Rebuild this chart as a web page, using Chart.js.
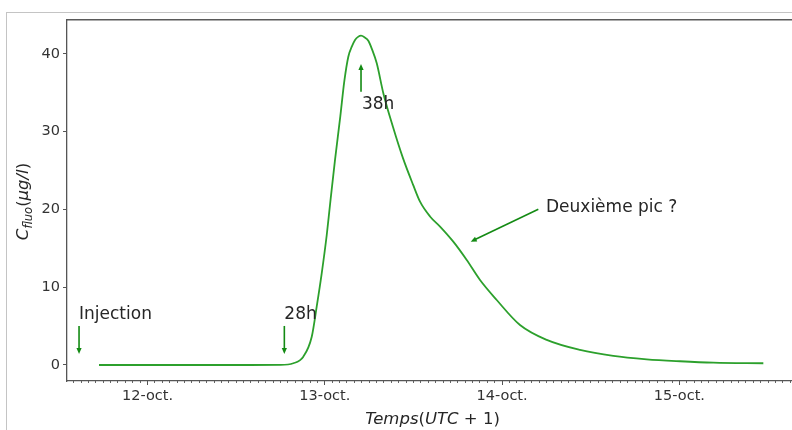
<!DOCTYPE html>
<html><head><meta charset="utf-8">
<script src="https://cdn.jsdelivr.net/npm/chart.js@4"></script>
<style>
html,body{margin:0;padding:0;background:#fff;overflow:hidden}
#wrap{position:relative;width:792px;height:430px;overflow:hidden}
#frame{position:absolute;left:6px;top:12px;right:-4px;bottom:-4px;border-left:1px solid #c4c4c4;border-top:1px solid #c4c4c4}
canvas{position:absolute;left:0;top:0}
</style></head><body>
<div id="wrap"><div id="frame"></div><canvas id="c" width="792" height="430"></canvas></div>
<script>
// time in hours from 12-oct 00:00 (UTC+1)
const hours = [-6.57, 0.34, 7.11, 13.88, 17.94, 19.74, 21.09, 22.23, 22.90, 23.58, 24.26, 24.70, 25.38, 26.10, 26.64, 27.18, 27.68, 28.09, 28.50, 28.90, 29.37, 29.89, 30.39, 31.03, 31.92, 33.23, 34.58, 35.94, 36.89, 38.24, 39.60, 41.39, 43.21, 45.01, 47.27, 50.42, 54.04, 58.54, 63.05, 67.57, 72.08, 76.59, 83.36];
// fluorescein concentration (µg/l)
const conc = [0, 0, 0, 0, 0.01, 0.22, 1.07, 3.64, 7.50, 11.79, 16.72, 20.58, 26.37, 32.0, 36.5, 39.65, 41.0, 41.8, 42.2, 42.35, 42.15, 41.7, 40.6, 38.8, 34.95, 30.6, 26.6, 23.2, 21.0, 19.1, 17.8, 15.86, 13.50, 10.93, 8.36, 5.14, 3.22, 1.93, 1.16, 0.73, 0.48, 0.30, 0.22];

const dayTicks = [0, 24, 48, 72];
const dayLabels = ['12-oct.', '13-oct.', '14-oct.', '15-oct.'];
const yTicks = [0, 10, 20, 30, 40];
const X_MIN = -10.90, X_MAX = 87.24;
const Y_MIN = -2.06, Y_MAX = 44.37;

// annotations (data units)
const annText  = ['Injection', '28h', '38h', 'Deuxième pic ?'];
const annTextX = [-9.27, 18.52, 29.03, 53.94];
const annTextY = [5.88, 5.88, 32.93, 19.68];
const arrFromX = [-9.27, 18.52, 28.90, 52.90];
const arrFromY = [5.02, 5.02, 35.15, 20.03];
const arrToX   = [-9.27, 18.52, 28.90, 43.75];
const arrToY   = [1.41, 1.41, 38.71, 15.86];

const minorTicks = [];
for (let h = -10; h <= 87; h++) minorTicks.push(h);

const FONT = 'DejaVu Sans';

const annPlugin = {
  id: 'ann',
  afterDatasetsDraw(chart) {
    const {ctx, scales: {x, y}} = chart;
    ctx.save();
    for (let i = 0; i < annText.length; i++) {
      const x1 = x.getPixelForValue(arrFromX[i]), y1 = y.getPixelForValue(arrFromY[i]);
      const x2 = x.getPixelForValue(arrToX[i]), y2 = y.getPixelForValue(arrToY[i]);
      ctx.strokeStyle = '#138a13'; ctx.fillStyle = '#138a13'; ctx.lineWidth = 1.6;
      const ang = Math.atan2(y2 - y1, x2 - x1);
      const hl = 6, hw = 2.6;
      ctx.beginPath(); ctx.moveTo(x1, y1);
      ctx.lineTo(x2 - Math.cos(ang) * hl * 0.8, y2 - Math.sin(ang) * hl * 0.8); ctx.stroke();
      ctx.beginPath();
      ctx.moveTo(x2, y2);
      ctx.lineTo(x2 - Math.cos(ang) * hl - Math.sin(ang) * hw, y2 - Math.sin(ang) * hl + Math.cos(ang) * hw);
      ctx.lineTo(x2 - Math.cos(ang) * hl + Math.sin(ang) * hw, y2 - Math.sin(ang) * hl - Math.cos(ang) * hw);
      ctx.closePath(); ctx.fill();
      ctx.fillStyle = '#262626';
      ctx.font = '17px "' + FONT + '"';
      ctx.textBaseline = 'alphabetic'; ctx.textAlign = 'left';
      ctx.fillText(annText[i], x.getPixelForValue(annTextX[i]), y.getPixelForValue(annTextY[i]));
    }
    ctx.restore();
  },
  afterDraw(chart) {
    const {ctx, chartArea} = chart;
    ctx.save();
    ctx.fillStyle = '#262626';
    ctx.textBaseline = 'alphabetic'; ctx.textAlign = 'left';
    // x title: Temps(UTC + 1)
    const xp = [['Temps', 'italic 16.5px'], ['(', '16.5px'], ['UTC', 'italic 16.5px'], [' + 1)', '16.5px']];
    let tw = 0;
    for (const [t, f] of xp) { ctx.font = f + ' "' + FONT + '"'; tw += ctx.measureText(t).width; }
    let cx = (chartArea.left + chartArea.right) / 2 + 3 - tw / 2;
    for (const [t, f] of xp) { ctx.font = f + ' "' + FONT + '"'; ctx.fillText(t, cx, 424); cx += ctx.measureText(t).width; }
    // y title: C_fluo(µg/l)
    ctx.translate(28, (chartArea.top + chartArea.bottom) / 2 + 1);
    ctx.rotate(-Math.PI / 2);
    const yp = [['C', 'italic 16.5px', 0], ['fluo', 'italic 11.5px', 4], ['(', '16.5px', 0], ['μg/l', 'italic 16.5px', 0], [')', '16.5px', 0]];
    tw = 0;
    for (const [t, f] of yp) { ctx.font = f + ' "' + FONT + '"'; tw += ctx.measureText(t).width; }
    cx = -tw / 2;
    for (const [t, f, d] of yp) { ctx.font = f + ' "' + FONT + '"'; ctx.fillText(t, cx, d); cx += ctx.measureText(t).width; }
    ctx.restore();
  }
};

new Chart(document.getElementById('c'), {
  type: 'line',
  data: { datasets: [{
    data: hours.map((h, i) => ({x: h, y: conc[i]})),
    borderColor: '#2ca02c', borderWidth: 1.8, pointRadius: 0,
    cubicInterpolationMode: 'monotone', fill: false
  }]},
  options: {
    responsive: false, animation: false, devicePixelRatio: 1,
    layout: {padding: {left: 0, top: 20, right: -6, bottom: 0}},
    plugins: {legend: {display: false}, tooltip: {enabled: false}},
    scales: {
      xm: {
        type: 'linear', position: 'bottom', weight: 0, min: X_MIN, max: X_MAX,
        afterBuildTicks: s => { s.ticks = minorTicks.map(v => ({value: v})); },
        afterFit: s => { s.height = 0; },
        grid: {display: true, drawOnChartArea: false, tickLength: 2, tickColor: '#666', color: '#666'},
        border: {display: false},
        ticks: {display: false, autoSkip: false}
      },
      x: {
        type: 'linear', position: 'bottom', weight: 1, min: X_MIN, max: X_MAX,
        afterBuildTicks: s => { s.ticks = dayTicks.map(v => ({value: v})); },
        afterFit: s => { s.height = 49; },
        grid: {display: true, drawOnChartArea: false, tickLength: 4, tickColor: '#555', color: '#555'},
        border: {display: true, color: '#555', width: 1.3},
        ticks: {autoSkip: false, maxRotation: 0, minRotation: 0, padding: 3, color: '#333',
          font: {family: FONT, size: 14.5}, callback: (v, i) => dayLabels[i]}
      },
      xt: {
        type: 'linear', position: 'top', min: X_MIN, max: X_MAX,
        afterFit: s => { s.height = 0; },
        grid: {display: false}, ticks: {display: false},
        border: {display: true, color: '#5a5a5a', width: 1.6}
      },
      y: {
        type: 'linear', position: 'left', min: Y_MIN, max: Y_MAX,
        afterBuildTicks: s => { s.ticks = yTicks.map(v => ({value: v})); },
        afterFit: s => { s.width = 67; },
        grid: {display: true, drawOnChartArea: false, tickLength: 4, tickColor: '#555', color: '#555'},
        border: {display: true, color: '#555', width: 1.3},
        ticks: {padding: 3, color: '#333', font: {family: FONT, size: 14.5}}
      }
    }
  },
  plugins: [annPlugin]
});
</script>
</body></html>
